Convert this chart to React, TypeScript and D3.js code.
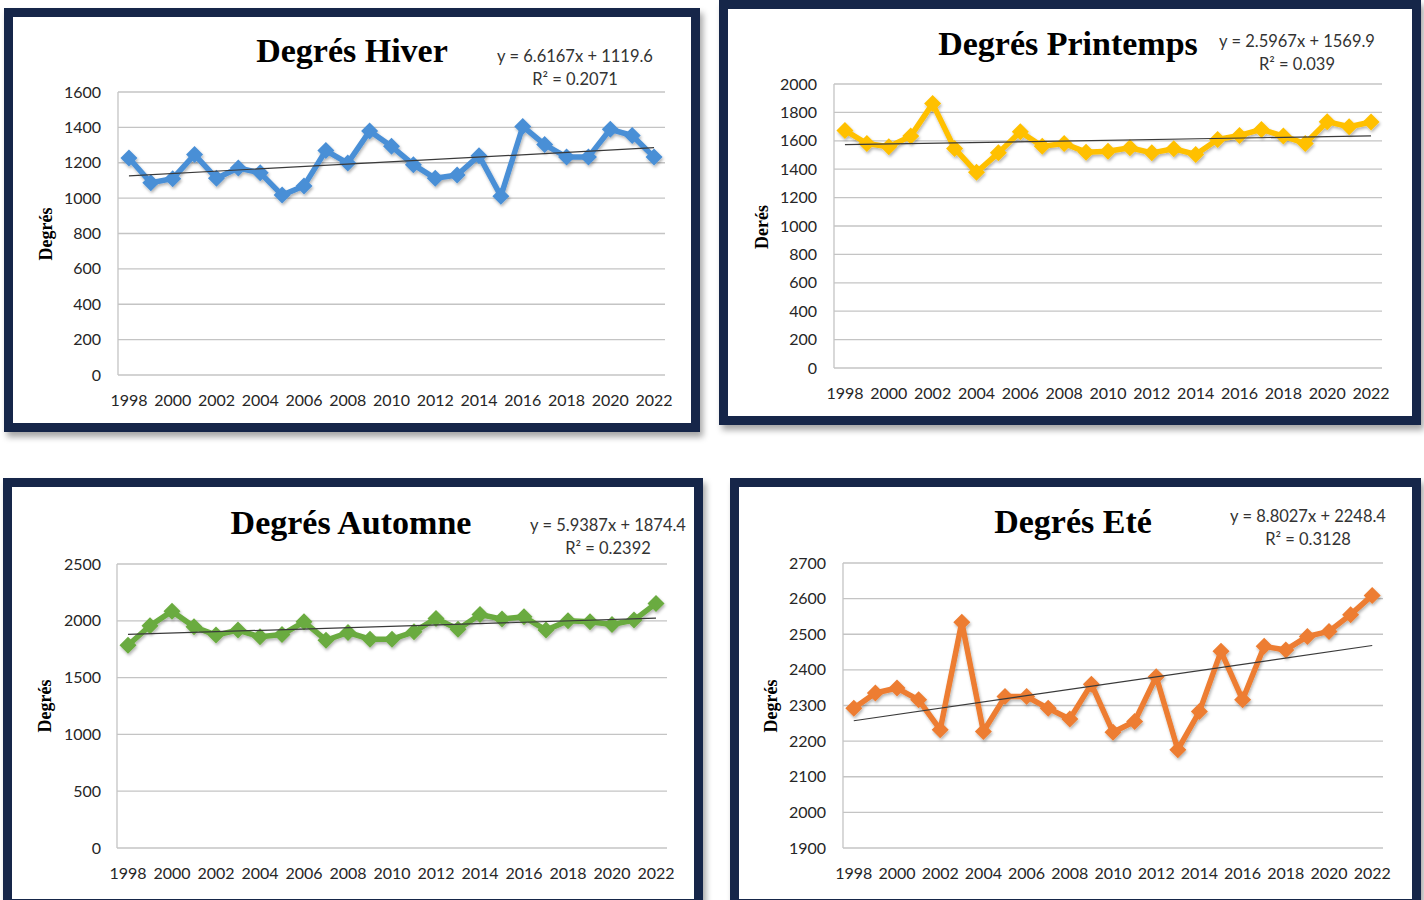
import React from "react";
import * as d3 from "d3";

// ---------- DATA ----------
const years = [
  "1998", "1999", "2000", "2001", "2002", "2003", "2004", "2005", "2006", "2007",
  "2008", "2009", "2010", "2011", "2012", "2013", "2014", "2015", "2016", "2017",
  "2018", "2019", "2020", "2021", "2022",
];
const yearLabels = ["1998", "2000", "2002", "2004", "2006", "2008", "2010", "2012", "2014", "2016", "2018", "2020", "2022"];

const hiverValues = [1227, 1087, 1110, 1246, 1112, 1170, 1143, 1017, 1069, 1269, 1198, 1379, 1293, 1189, 1112, 1131, 1240, 1011, 1405, 1303, 1232, 1232, 1389, 1354, 1232];
const printempsValues = [1673, 1581, 1558, 1633, 1862, 1546, 1378, 1515, 1663, 1562, 1581, 1520, 1527, 1551, 1515, 1544, 1504, 1609, 1638, 1680, 1633, 1581, 1735, 1699, 1732];
const automneValues = [1785, 1956, 2085, 1947, 1874, 1918, 1859, 1879, 1991, 1829, 1897, 1838, 1838, 1903, 2021, 1926, 2056, 2015, 2035, 1918, 2000, 1991, 1968, 2006, 2153];
const eteValues = [2292, 2335, 2349, 2316, 2232, 2534, 2227, 2325, 2325, 2292, 2262, 2360, 2225, 2255, 2381, 2176, 2283, 2452, 2316, 2466, 2456, 2494, 2508, 2555, 2609];

const hiverTicks = [0, 200, 400, 600, 800, 1000, 1200, 1400, 1600];
const printempsTicks = [0, 200, 400, 600, 800, 1000, 1200, 1400, 1600, 1800, 2000];
const automneTicks = [0, 500, 1000, 1500, 2000, 2500];
const eteTicks = [1900, 2000, 2100, 2200, 2300, 2400, 2500, 2600, 2700];

// trend coefficients [slope, intercept], x = 1..25
const hiverTrend = [6.6167, 1119.6];
const printempsTrend = [2.5967, 1569.9];
const automneTrend = [5.9387, 1874.4];
const eteTrend = [8.8027, 2248.4];

const titles = ["Degrés Hiver", "Degrés Printemps", "Degrés Automne", "Degrés Eté"];
const yTitles = ["Degrés", "Derés", "Degrés", "Degrés"];
const equations = ["y = 6.6167x + 1119.6", "y = 2.5967x + 1569.9", "y = 5.9387x + 1874.4", "y = 8.8027x + 2248.4"];
const r2Labels = ["R² = 0.2071", "R² = 0.039", "R² = 0.2392", "R² = 0.3128"];

// ---------- LAYOUT ----------
const panels = [
  {
    values: hiverValues, ticks: hiverTicks, trend: hiverTrend, color: "#4a8fd6",
    box: { x: 4, y: 8, w: 696, h: 424 },
    plot: { l: 118, r: 665, t: 92, b: 375 },
    titleX: 352, titleY: 62, eqX: 575, eqY: 62, yTitleX: 52, yTitleY: 234, xLabY: 406, yLabX: 101,
  },
  {
    values: printempsValues, ticks: printempsTicks, trend: printempsTrend, color: "#ffc000",
    box: { x: 719, y: 0, w: 702, h: 425 },
    plot: { l: 834, r: 1382, t: 84, b: 368 },
    titleX: 1068, titleY: 55, eqX: 1297, eqY: 47, yTitleX: 768, yTitleY: 227, xLabY: 399, yLabX: 817,
  },
  {
    values: automneValues, ticks: automneTicks, trend: automneTrend, color: "#6aab3f",
    box: { x: 3, y: 478, w: 700, h: 430 },
    plot: { l: 117, r: 667, t: 564, b: 848 },
    titleX: 351, titleY: 534, eqX: 608, eqY: 531, yTitleX: 51, yTitleY: 706, xLabY: 879, yLabX: 101,
  },
  {
    values: eteValues, ticks: eteTicks, trend: eteTrend, color: "#ed7d31",
    box: { x: 730, y: 478, w: 691, h: 430 },
    plot: { l: 843, r: 1383, t: 563, b: 848 },
    titleX: 1073, titleY: 533, eqX: 1308, eqY: 522, yTitleX: 777, yTitleY: 706, xLabY: 879, yLabX: 826,
  },
];

const NAVY = "#13284a";
const SANS = "Lato, 'Open Sans', sans-serif";
const SERIF = "'Liberation Serif', 'Times New Roman', serif";

function Panel({ p, i }: { p: any; i: number }) {
  const x = d3.scalePoint<string>().domain(years).range([p.plot.l, p.plot.r]).padding(0.5);
  const y = d3.scaleLinear().domain([p.ticks[0], p.ticks[p.ticks.length - 1]]).range([p.plot.b, p.plot.t]);
  const line = d3.line<number>().x((_, k) => x(years[k]) as number).y((v) => y(v));
  const [slope, intercept] = p.trend;
  const t1 = slope * 1 + intercept;
  const t2 = slope * years.length + intercept;
  const half = 8.5;
  const diamond = `M0,${-half}L${half},0L0,${half}L${-half},0Z`;
  const bw = 9;
  return (
    <g>
      <rect
        x={p.box.x + bw / 2}
        y={p.box.y + bw / 2}
        width={p.box.w - bw}
        height={p.box.h - bw}
        fill="#ffffff"
        stroke={NAVY}
        strokeWidth={bw}
        filter="url(#panelShadow)"
      />
      {/* gridlines */}
      {p.ticks.map((t: number) => (
        <line key={t} x1={p.plot.l} x2={p.plot.r} y1={y(t)} y2={y(t)} stroke="#c4c4c4" strokeWidth={1.3} />
      ))}
      <line x1={p.plot.l} x2={p.plot.l} y1={p.plot.t} y2={p.plot.b} stroke="#c4c4c4" strokeWidth={1.3} />
      {/* y tick labels */}
      {p.ticks.map((t: number) => (
        <text key={"l" + t} x={p.yLabX} y={y(t)} dy="0.35em" textAnchor="end" fontFamily={SANS} fontSize={16} fill="#262626">
          {t}
        </text>
      ))}
      {/* x tick labels */}
      {yearLabels.map((yr) => (
        <text key={yr} x={x(yr)} y={p.xLabY} textAnchor="middle" fontFamily={SANS} fontSize={16} fill="#262626">
          {yr}
        </text>
      ))}
      {/* series */}
      <g filter="url(#lineShadow)">
        <path d={line(p.values) || ""} fill="none" stroke={p.color} strokeWidth={5.5} strokeLinejoin="round" />
        {p.values.map((v: number, k: number) => (
          <path key={k} d={diamond} transform={`translate(${x(years[k])},${y(v)})`} fill={p.color} />
        ))}
      </g>
      {/* trend line */}
      <line x1={x(years[0])} x2={x(years[years.length - 1])} y1={y(t1)} y2={y(t2)} stroke="#3a3a3a" strokeWidth={1.2} />
      {/* titles */}
      <text x={p.titleX} y={p.titleY} textAnchor="middle" fontFamily={SERIF} fontWeight="bold" fontSize={34} fill="#000">
        {titles[i]}
      </text>
      <text x={p.eqX} y={p.eqY} textAnchor="middle" fontFamily={SANS} fontSize={16.5} fill="#333">
        {equations[i]}
      </text>
      <text x={p.eqX} y={p.eqY + 23} textAnchor="middle" fontFamily={SANS} fontSize={16.5} fill="#333">
        {r2Labels[i]}
      </text>
      <text
        transform={`translate(${p.yTitleX},${p.yTitleY}) rotate(-90)`}
        textAnchor="middle"
        fontFamily={SERIF}
        fontWeight="bold"
        fontSize={18}
        fill="#000"
      >
        {yTitles[i]}
      </text>
    </g>
  );
}

export default function App() {
  return (
    <svg
      width={1424}
      height={900}
      style={{ position: "absolute", left: 0, top: 0, display: "block", background: "#ffffff" }}
    >
      <defs>
        <filter id="panelShadow" x="-5%" y="-5%" width="112%" height="115%">
          <feDropShadow dx="3" dy="5" stdDeviation="3" floodColor="#000" floodOpacity="0.35" />
        </filter>
        <filter id="lineShadow" x="-5%" y="-10%" width="110%" height="130%">
          <feDropShadow dx="1" dy="2" stdDeviation="1.5" floodColor="#000" floodOpacity="0.3" />
        </filter>
      </defs>
      <rect x={0} y={0} width={1424} height={900} fill="#ffffff" />
      {panels.map((p, i) => (
        <Panel key={i} p={p} i={i} />
      ))}
    </svg>
  );
}
